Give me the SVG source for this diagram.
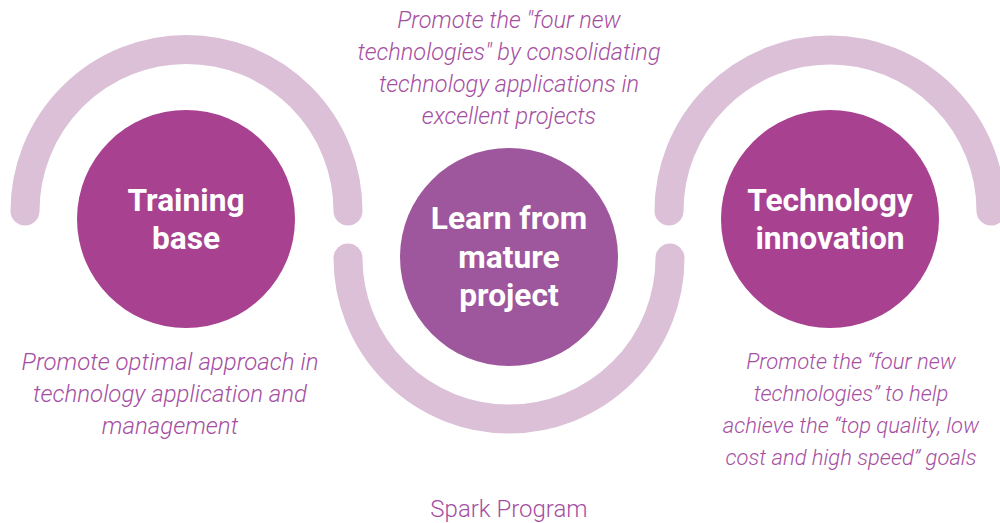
<svg xmlns="http://www.w3.org/2000/svg" width="1000" height="523" viewBox="0 0 1000 523">
<style>
.arc{fill:none;stroke:#dbc0d8;stroke-width:29;stroke-linecap:round}
.title{font-family:Roboto,"Liberation Sans",sans-serif;font-weight:700;font-size:31.7px;fill:#ffffff;text-anchor:middle}
.desc{font-family:Roboto,"Liberation Sans",sans-serif;font-weight:300;font-style:italic;font-size:22px;fill:#a54fa2;text-anchor:middle}
.cap{font-family:Roboto,"Liberation Sans",sans-serif;font-weight:300;font-size:24px;fill:#a54fa2;text-anchor:middle}
</style>
<rect width="1000" height="523" fill="#ffffff"/>
<g id="connectors">
<path class="arc" d="M25,211 A161.5,161.5 0 0 1 348,211"/>
<path class="arc" d="M348,258 A161,161 0 0 0 670,258"/>
<path class="arc" d="M669,211 A161,161 0 0 1 991,211"/>
</g>
<g id="node-training">
<circle cx="186" cy="219" r="109" fill="#a84190"/>
<text class="title" x="186" y="211">Training</text>
<text class="title" x="186" y="249">base</text>
<g class="desc" style="font-size:24px">
<text x="170" y="370">Promote optimal approach in</text>
<text x="170" y="402">technology application and</text>
<text x="170" y="434">management</text>
</g>
</g>
<g id="node-learn">
<circle cx="509" cy="257" r="109" fill="#9e579c"/>
<text class="title" x="509" y="229">Learn from</text>
<text class="title" x="509" y="268">mature</text>
<text class="title" x="509" y="306">project</text>
<g class="desc" style="font-size:23.5px">
<text x="509" y="28">Promote the "four new</text>
<text x="509" y="60">technologies" by consolidating</text>
<text x="509" y="92">technology applications in</text>
<text x="509" y="124">excellent projects</text>
</g>
</g>
<g id="node-tech">
<circle cx="830" cy="219" r="109" fill="#a84190"/>
<text class="title" x="830" y="211">Technology</text>
<text class="title" x="830" y="249">innovation</text>
<g class="desc">
<text x="851" y="369">Promote the “four new</text>
<text x="851" y="401">technologies” to help</text>
<text x="851" y="433">achieve the “top quality, low</text>
<text x="851" y="465">cost and high speed” goals</text>
</g>
</g>
<text class="cap" x="509" y="517">Spark Program</text>
</svg>
